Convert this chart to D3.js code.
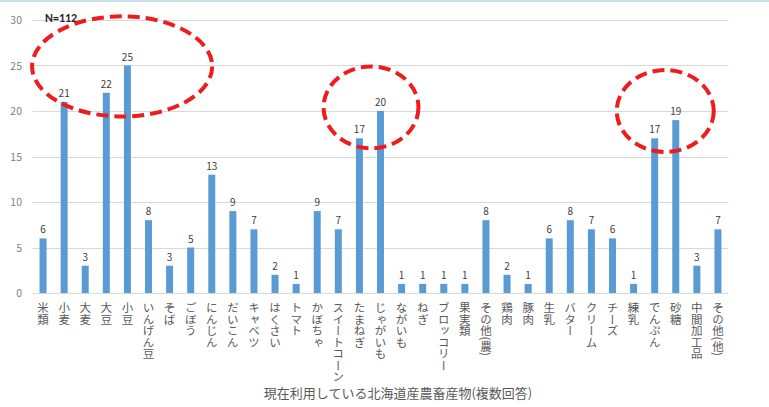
<!DOCTYPE html>
<html>
<head>
<meta charset="utf-8">
<script src="https://cdn.jsdelivr.net/npm/d3@7"></script>
<style>
  body { margin: 0; background: #fff; }
  svg { display: block; font-family: "Noto Sans CJK JP", "Noto Sans", sans-serif; }
</style>
</head>
<body>
<svg id="chart" width="769" height="407"></svg>
<script>
const categories = ['米類', '小麦', '大麦', '大豆', '小豆', 'いんげん豆', 'そば', 'ごぼう', 'にんじん', 'だいこん',
  'キャベツ', 'はくさい', 'トマト', 'かぼちゃ', 'スイートコーン', 'たまねぎ', 'じゃがいも', 'ながいも', 'ねぎ',
  'ブロッコリー', '果実類', 'その他(農)', '鶏肉', '豚肉', '生乳', 'バター', 'クリーム', 'チーズ', '練乳',
  'でんぷん', '砂糖', '中間加工品', 'その他(他)'];
const counts = [6, 21, 3, 22, 25, 8, 3, 5, 13, 9, 7, 2, 1, 9, 7, 17, 20, 1, 1, 1, 1, 8, 2, 1, 6, 8, 7, 6, 1, 17, 19, 3, 7];
const yTicks = [0, 5, 10, 15, 20, 25, 30];
const title = '現在利用している北海道産農畜産物(複数回答)';
const note = 'N=112';
// highlight circles: centre (category index, value), radius (bands, value units)
const highlights = [
  {ci: 3.75, cv: 24.9, ri: 4.27, rv: 5.5},
  {ci: 15.55, cv: 20.4, ri: 2.25, rv: 4.5},
  {ci: 29.5, cv: 20.0, ri: 2.3, rv: 4.5}
];

const svg = d3.select('#chart');
const plotLeft = 32.5, plotRight = 728.5, plotTop = 20, plotBottom = 293;

const x = d3.scaleBand().domain(categories).range([plotLeft, plotRight]);
const xi = d3.scaleLinear().domain([0, categories.length]).range([plotLeft, plotRight]);
const y = d3.scaleLinear().domain([0, 30]).range([plotBottom, plotTop]);

// top border strip
svg.append('rect').attr('x', 0).attr('y', 0).attr('width', 769).attr('height', 2).attr('fill', '#c9e2e8');

// gridlines
svg.append('g').selectAll('line').data(yTicks).join('line')
  .attr('x1', plotLeft).attr('x2', plotRight)
  .attr('y1', d => Math.round(y(d)) + 0.5).attr('y2', d => Math.round(y(d)) + 0.5)
  .attr('stroke', '#d9d9d9').attr('stroke-width', 1);

// y labels
svg.append('g').selectAll('text').data(yTicks).join('text')
  .attr('x', 22).attr('y', d => y(d) + 4)
  .attr('text-anchor', 'end')
  .attr('font-size', 10.5).attr('fill', '#7f7f7f')
  .text(d => d);

// bars
const bw = 7;
svg.append('g').selectAll('rect').data(categories).join('rect')
  .attr('x', d => x(d) + x.bandwidth() / 2 - bw / 2)
  .attr('y', (d, i) => y(counts[i]))
  .attr('width', bw)
  .attr('height', (d, i) => y(0) - y(counts[i]))
  .attr('fill', '#5b9bd5');

// value labels
svg.append('g').selectAll('text').data(categories).join('text')
  .attr('x', d => x(d) + x.bandwidth() / 2)
  .attr('y', (d, i) => y(counts[i]) - 5)
  .attr('text-anchor', 'middle')
  .attr('font-size', 10).attr('fill', '#404040')
  .text((d, i) => counts[i]);

// category labels, vertical
svg.append('g').selectAll('text').data(categories).join('text')
  .attr('x', d => x(d) + x.bandwidth() / 2)
  .attr('y', 302)
  .style('writing-mode', 'vertical-rl')
  .attr('font-size', 11.5).attr('fill', '#595959')
  .text(d => d);

// N label
svg.append('text').attr('x', 45).attr('y', 22)
  .attr('font-size', 12).attr('font-weight', 'bold')
  .attr('font-family', 'Carlito, Calibri, "Liberation Sans", sans-serif')
  .attr('fill', '#262626').text(note);

// chart title
svg.append('text').attr('x', 398).attr('y', 398)
  .attr('text-anchor', 'middle')
  .attr('font-size', 13).attr('fill', '#595959')
  .text(title);

// red dashed highlight ellipses
svg.append('g').selectAll('ellipse').data(highlights).join('ellipse')
  .attr('cx', d => xi(d.ci + 0.5))
  .attr('cy', d => y(d.cv))
  .attr('rx', d => xi(d.ri) - xi(0))
  .attr('ry', d => y(0) - y(d.rv))
  .attr('fill', 'none')
  .attr('stroke', '#ee1c1c')
  .attr('stroke-width', 4)
  .attr('stroke-dasharray', '12 6');
</script>
</body>
</html>
